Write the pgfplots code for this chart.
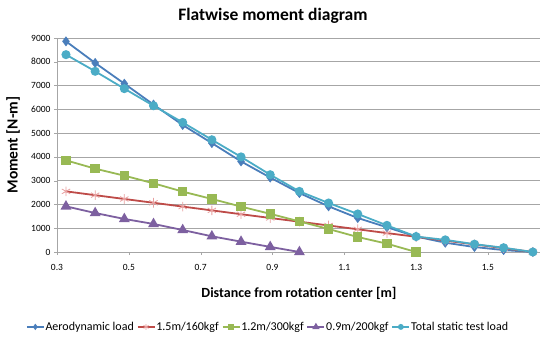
\documentclass[border=0pt]{standalone}
\usepackage{fontspec}
\setmainfont{Carlito}
\usepackage{pgfplots}
\pgfplotsset{compat=1.18}
\definecolor{cBlue}{HTML}{4A7EBB}
\definecolor{cRed}{HTML}{BE4B48}
\definecolor{cStar}{HTML}{E8A0A0}
\definecolor{cGreen}{HTML}{98B954}
\definecolor{cPurple}{HTML}{7D60A0}
\definecolor{cCyan}{HTML}{4BACC6}
\definecolor{cGrid}{HTML}{A6A6A6}
\begin{document}
\begin{tikzpicture}
\useasboundingbox (0,0) rectangle (543pt,338pt);
\begin{axis}[
  at={(57pt,86pt)}, anchor=south west,
  scale only axis, width=483pt, height=214pt,
  xmin=0.3, xmax=1.645, ymin=0, ymax=9000,
  axis lines=left, axis line style={-, draw=cGrid},
  xtick={0.3,0.5,0.7,0.9,1.1,1.3,1.5},
  ytick={0,1000,...,9000},
  tick style={draw=cGrid}, major tick length=3pt,
  xtick pos=bottom, ytick pos=left,
  tick align=outside,
  ymajorgrids, major grid style={draw=cGrid, line width=0.6pt},
  /pgf/number format/assume math mode=true,
  /pgf/number format/1000 sep={},
  xticklabel style={/pgf/number format/fixed, /pgf/number format/fixed zerofill, /pgf/number format/precision=1, yshift=-6pt},
  ticklabel style={font=\fontsize{9.5}{11}\selectfont},
  title={Flatwise moment diagram},
  title style={at={(axis description cs:0.447,1.075)}, anchor=center, font=\fontsize{17.5}{20}\selectfont\bfseries},
  xlabel={Distance from rotation center [m]},
  xlabel style={at={(axis description cs:0.501,-0.192)}, anchor=center, font=\fontsize{14}{16}\selectfont\bfseries},
  ylabel={Moment [N-m]},
  ylabel style={at={(axis description cs:-0.091,0.5)}, anchor=center, font=\fontsize{15.5}{18}\selectfont\bfseries},
  legend style={at={(axis description cs:0.436,-0.350)}, anchor=center, draw=none, fill=none,
    legend columns=5, font=\fontsize{12}{14}\selectfont, inner sep=0pt,
    /tikz/every even column/.append style={column sep=2pt},
    nodes={inner xsep=1pt}},
  legend cell align=left,
  legend image code/.code={\draw[#1, line width=1.5pt, every mark/.append style={scale=0.6}, mark repeat=2, mark phase=2] plot coordinates {(0pt,0pt) (8.5pt,0pt) (17pt,0pt)};},
  clip=false,
]
\addplot[cBlue, line width=1.8pt, mark=diamond*, mark size=4.6pt, mark options={fill=cBlue, draw=cBlue, line width=0.5pt}] coordinates {
(0.325,8860) (0.40625,7950) (0.4875,7080) (0.56875,6200) (0.65,5340) (0.73125,4580) (0.8125,3810) (0.89375,3130) (0.975,2480) (1.05625,1920) (1.1375,1430) (1.21875,1040) (1.3,650) (1.38125,390) (1.4625,210) (1.54375,80) (1.625,0)};
\addlegendentry{Aerodynamic load}
\addplot[cRed, line width=1.8pt, mark=asterisk, mark size=4.8pt, mark options={draw=cStar, line width=0.8pt}] coordinates {
(0.325,2550) (0.40625,2390) (0.4875,2230) (0.56875,2070) (0.65,1910) (0.73125,1750) (0.8125,1590) (0.89375,1430) (0.975,1275) (1.05625,1115) (1.1375,955) (1.21875,795) (1.3,640) (1.38125,480) (1.4625,320) (1.54375,160) (1.625,0)};
\addlegendentry{1.5m/160kgf}
\addplot[cGreen, line width=1.8pt, mark=square*, mark size=3.8pt, mark options={fill=cGreen, draw=cGreen}] coordinates {
(0.325,3855) (0.40625,3505) (0.4875,3210) (0.56875,2890) (0.65,2540) (0.73125,2230) (0.8125,1910) (0.89375,1605) (0.975,1287) (1.05625,967) (1.1375,630) (1.21875,350) (1.3,0)};
\addlegendentry{1.2m/300kgf}
\addplot[cPurple, line width=1.8pt, mark=triangle*, mark size=4.5pt, mark options={fill=cPurple, draw=cPurple}] coordinates {
(0.325,1920) (0.40625,1640) (0.4875,1390) (0.56875,1180) (0.65,925) (0.73125,660) (0.8125,435) (0.89375,215) (0.975,0)};
\addlegendentry{0.9m/200kgf}
\addplot[cCyan, line width=1.8pt, mark=*, mark size=3.6pt, mark options={fill=cCyan, draw=cCyan}] coordinates {
(0.325,8300) (0.40625,7600) (0.4875,6870) (0.56875,6150) (0.65,5450) (0.73125,4720) (0.8125,4000) (0.89375,3250) (0.975,2550) (1.05625,2060) (1.1375,1600) (1.21875,1120) (1.3,650) (1.38125,510) (1.4625,330) (1.54375,180) (1.625,0)};
\addlegendentry{Total static test load}
\end{axis}
\end{tikzpicture}
\end{document}
